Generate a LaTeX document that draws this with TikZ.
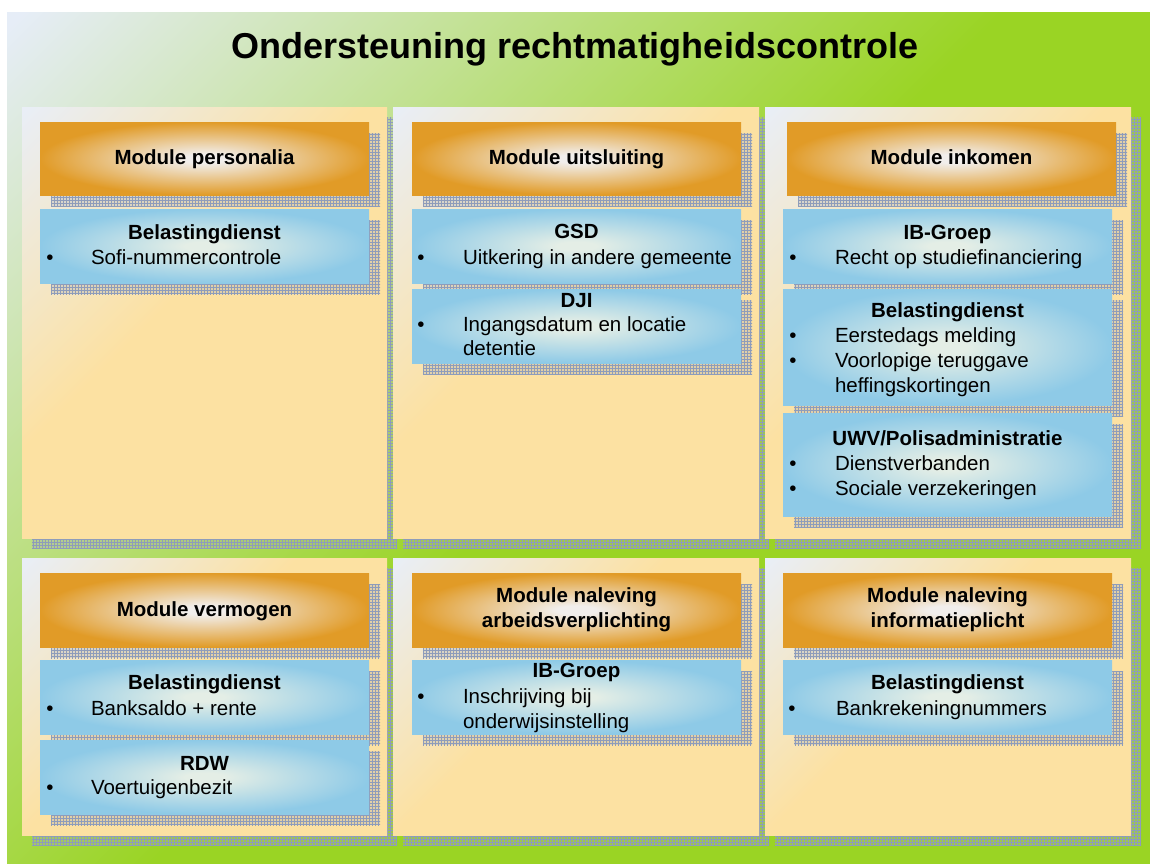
\documentclass[tikz,border=0pt]{standalone}
\usepackage{fontspec}
\setmainfont{Liberation Sans}
\usetikzlibrary{patterns}
\definecolor{bgpale}{HTML}{E6EDF7}
\definecolor{bggreen}{HTML}{9AD424}
\definecolor{panpale}{HTML}{E9EEF6}
\definecolor{pancream}{HTML}{FCE1A2}
\definecolor{hdrout}{HTML}{E19B27}
\definecolor{hdrin}{HTML}{F1EEEC}
\definecolor{blueout}{HTML}{8ECAE7}
\definecolor{bluein}{HTML}{E4EEE6}
\definecolor{shfill}{HTML}{A8ACB4}
\definecolor{shgrid}{HTML}{8E9CBA}
\pgfdeclarehorizontalshading{bgshade}{100bp}{color(0bp)=(bgpale); color(15bp)=(bgpale); color(50bp)=(bggreen); color(100bp)=(bggreen)}
\pgfdeclarehorizontalshading{panshade}{100bp}{color(0bp)=(panpale); color(15bp)=(panpale); color(45bp)=(pancream); color(100bp)=(pancream)}
\pgfdeclareradialshading{hdrshade}{\pgfpoint{0bp}{0bp}}{color(0bp)=(hdrin); color(3bp)=(hdrin); color(25bp)=(hdrout); color(50bp)=(hdrout)}
\pgfdeclareradialshading{blueshade}{\pgfpoint{0bp}{0bp}}{color(0bp)=(bluein); color(3bp)=(bluein); color(25bp)=(blueout); color(50bp)=(blueout)}
\begin{document}
\begin{tikzpicture}[x=1pt,y=-1pt,
  shadowbox/.style={preaction={fill=shfill, fill opacity=0.3}, pattern=grid, pattern color=shgrid},
  panelbox/.style={shading=panshade, shading angle=-45},
  hdrbox/.style={shading=hdrshade},
  srcbox/.style={shading=blueshade},
  txt/.style={inner sep=0pt, outer sep=0pt, anchor=base, font=\fontsize{20.5}{25}\selectfont},
  btxt/.style={txt, font=\fontsize{20.5}{25}\selectfont\bfseries},
  itxt/.style={txt, anchor=base west},
  bul/.style={txt}
]
\useasboundingbox (0,0) rectangle (1150,863);
\fill[white] (0,0) rectangle (1150,863);
\shade[shading=bgshade, shading angle=-45] (7,12) rectangle (1150,863);
\node[inner sep=0pt, anchor=base, font=\fontsize{36}{43}\selectfont\bfseries] (title) at (575,58) {Ondersteuning rechtmatigheidscontrole};

% ---------- panels: shadows and panels ----------
\foreach \xa/\xb/\ya/\yb in {22/387/107/538, 393/759/107/538, 765/1131/107/538, 22/387/558/835, 393/759/558/835, 765/1131/558/835}{
  \path[shadowbox] (\xa+10,\ya+10) rectangle (\xb+10,\yb+10);
  \shade[panelbox] (\xa,\ya) rectangle (\xb,\yb);
}

% ---------- box shadows ----------
\foreach \xa/\xb/\ya/\yb in {
  40/369/122/195, 40/369/209/283,
  412/741/122/195, 412/741/209/283, 412/741/289/363,
  787/1116/122/195, 783/1112/209/283, 783/1112/289/405, 783/1112/413/516,
  40/369/573/647, 40/369/660/734, 40/369/740/814,
  412/741/573/647, 412/741/660/734,
  783/1112/573/647, 783/1112/660/734}{
  \path[shadowbox] (\xa+11,\ya+11) rectangle (\xb+11,\yb+11);
}

% ---------- headers ----------
\foreach \xa/\xb/\ya/\yb in {40/369/122/195, 412/741/122/195, 787/1116/122/195, 40/369/573/647, 412/741/573/647, 783/1112/573/647}{
  \shade[hdrbox] (\xa,\ya) rectangle (\xb,\yb);
}
% ---------- source boxes ----------
\foreach \xa/\xb/\ya/\yb in {40/369/209/283, 412/741/209/283, 412/741/289/363, 783/1112/209/283, 783/1112/289/405, 783/1112/413/516, 40/369/660/734, 40/369/740/814, 412/741/660/734, 783/1112/660/734}{
  \shade[srcbox] (\xa,\ya) rectangle (\xb,\yb);
}

% ---------- header texts ----------
\node[btxt] (h1) at (204.5,164) {Module personalia};
\node[btxt] (h2) at (576.5,164) {Module uitsluiting};
\node[btxt] (h3) at (951.5,164) {Module inkomen};
\node[btxt] (h4) at (204.5,616) {Module vermogen};
\node[btxt] (h5a) at (576.5,602) {Module naleving};
\node[btxt] (h5b) at (576.5,627) {arbeidsverplichting};
\node[btxt] (h6a) at (947.5,602) {Module naleving};
\node[btxt] (h6b) at (947.5,627) {informatieplicht};

% ---------- panel 1 ----------
\node[btxt] (s1) at (204.5,239) {Belastingdienst};
\node[bul] (b1) at (50,264) {•};
\node[itxt] (i1) at (91,264) {Sofi-nummercontrole};

% ---------- panel 2 ----------
\node[btxt] (s2) at (576.5,238) {GSD};
\node[bul] (b2) at (421,264) {•};
\node[itxt] (i2) at (463,264) {Uitkering in andere gemeente};
\node[btxt] (s3) at (576.5,307) {DJI};
\node[bul] (b3) at (421,331) {•};
\node[itxt] (i3a) at (463,331) {Ingangsdatum en locatie};
\node[itxt] (i3b) at (463,355) {detentie};

% ---------- panel 3 ----------
\node[btxt] (s4) at (947.5,239) {IB-Groep};
\node[bul] (b4) at (793,264) {•};
\node[itxt] (i4) at (835,264) {Recht op studiefinanciering};
\node[btxt] (s5) at (947.5,317) {Belastingdienst};
\node[bul] (b5a) at (793,342) {•};
\node[itxt] (i5a) at (835,342) {Eerstedags melding};
\node[bul] (b5b) at (793,367) {•};
\node[itxt] (i5b) at (835,367) {Voorlopige teruggave};
\node[itxt] (i5c) at (835,392) {heffingskortingen};
\node[btxt] (s6) at (947.5,445) {UWV/Polisadministratie};
\node[bul] (b6a) at (793,470) {•};
\node[itxt] (i6a) at (835,470) {Dienstverbanden};
\node[bul] (b6b) at (793,495) {•};
\node[itxt] (i6b) at (835,495) {Sociale verzekeringen};

% ---------- panel 4 ----------
\node[btxt] (s7) at (204.5,689) {Belastingdienst};
\node[bul] (b7) at (50,715) {•};
\node[itxt] (i7) at (91,715) {Banksaldo + rente};
\node[btxt] (s8) at (204.5,770) {RDW};
\node[bul] (b8) at (50,794) {•};
\node[itxt] (i8) at (91,794) {Voertuigenbezit};

% ---------- panel 5 ----------
\node[btxt] (s9) at (576.5,677) {IB-Groep};
\node[bul] (b9) at (421,703) {•};
\node[itxt] (i9a) at (463,703) {Inschrijving bij};
\node[itxt] (i9b) at (463,728) {onderwijsinstelling};

% ---------- panel 6 ----------
\node[btxt] (s10) at (947.5,689) {Belastingdienst};
\node[bul] (b10) at (792,715) {•};
\node[itxt] (i10) at (836,715) {Bankrekeningnummers};
\end{tikzpicture}
\end{document}
